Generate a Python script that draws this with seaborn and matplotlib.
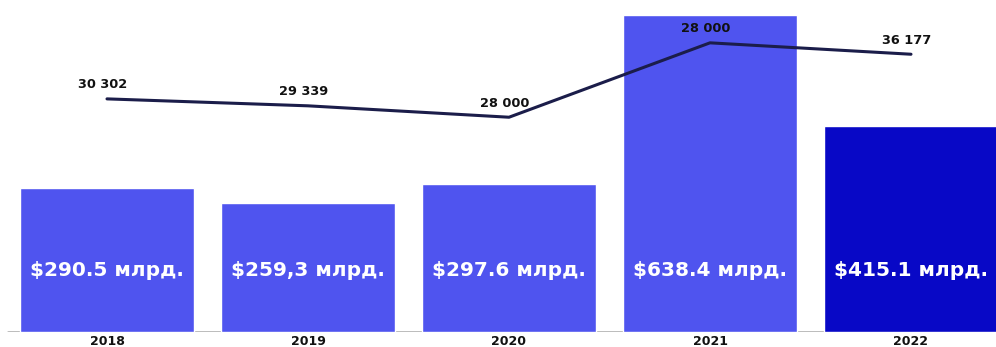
import matplotlib
matplotlib.use("Agg")
import matplotlib.pyplot as plt
import seaborn as sns
import pandas as pd

# Data
years = ["2018", "2019", "2020", "2021", "2022"]
bar_values = [290.5, 259.3, 297.6, 638.4, 415.1]
bar_labels = ["$290.5 млрд.", "$259,3 млрд.", "$297.6 млрд.", "$638.4 млрд.", "$415.1 млрд."]
line_labels = ["30 302", "29 339", "28 000", "28 000", "36 177"]
line_levels = [470, 456, 433, 583, 560]  # drawn height of the line (bar-axis units)
bar_colors = ["#4F54EF", "#4F54EF", "#4F54EF", "#4F54EF", "#0808C6"]

sns.set_theme(style="white")
plt.rcParams["font.family"] = ["DejaVu Sans"]

W, H = 996, 347
fig = plt.figure(figsize=(W / 100, H / 100), dpi=100)
base_px = 332
ax = fig.add_axes([0, (H - base_px) / H, 1, base_px / H])

df = pd.DataFrame({"year": years, "value": bar_values})
sns.barplot(data=df, x="year", y="value", hue="year", palette=bar_colors,
            width=0.87, legend=False, ax=ax, saturation=1)

px_per_unit = 0.496
ax.set_ylim(0, base_px / px_per_unit)
spacing = 201
ax.set_xlim(-107 / spacing, (W - 107) / spacing)

# bar labels
for i, (v, lab) in enumerate(zip(bar_values, bar_labels)):
    ax.text(i, (base_px - 270) / px_per_unit, lab, ha="center", va="center",
            color="white", fontsize=14.5, fontweight="bold")

# line
line_df = pd.DataFrame({"x": range(len(years)), "y": line_levels})
sns.lineplot(data=line_df, x="x", y="y", color="#1B1D4A", linewidth=2.2, ax=ax)
for i, (lv, lab) in enumerate(zip(line_levels, line_labels)):
    ax.annotate(lab, (i, lv), xytext=(-3, 10), textcoords="offset points",
                ha="center", va="center", fontsize=9.3, fontweight="bold",
                color="#111111")

# axes styling
for s in ["top", "right", "left", "bottom"]:
    ax.spines[s].set_visible(False)
ax.axhline(0, xmin=8 / W, xmax=1, color="#B5B5B5", linewidth=2, zorder=0)
ax.set_yticks([])
ax.set_xticks(range(len(years)))
ax.set_xticklabels(years, fontsize=9, fontweight="bold", color="#111111")
ax.tick_params(axis="x", length=0, pad=2)
ax.set_xlabel("")
ax.set_ylabel("")

fig.savefig("out.png", dpi=100)
